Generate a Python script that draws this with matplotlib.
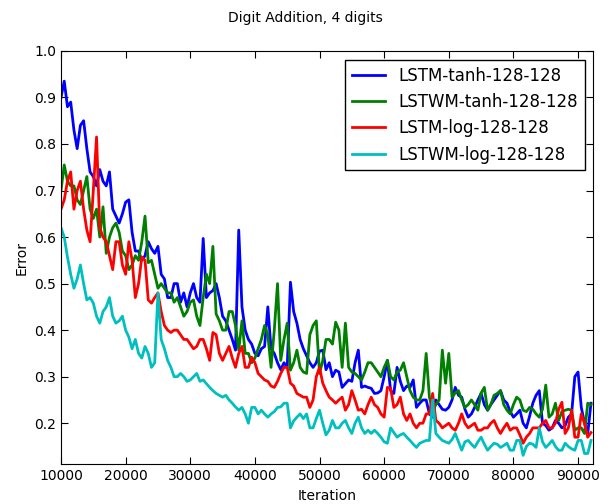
import numpy as np
import matplotlib
matplotlib.use("Agg")
import matplotlib.pyplot as plt

iterations = np.arange(10000, 92001, 500)

lstm_tanh = [
    0.90, 0.935, 0.88, 0.89, 0.83, 0.79, 0.84, 0.85, 0.79, 0.74,
    0.73, 0.71, 0.745, 0.72, 0.71, 0.74, 0.66, 0.645, 0.63, 0.65,
    0.675, 0.68, 0.61, 0.57, 0.57, 0.55, 0.56, 0.59, 0.575, 0.565,
    0.58, 0.52, 0.51, 0.47, 0.47, 0.50, 0.50, 0.46, 0.48, 0.45,
    0.48, 0.50, 0.47, 0.46, 0.597, 0.47, 0.48, 0.485, 0.50, 0.47,
    0.43, 0.42, 0.40, 0.38, 0.357, 0.615, 0.45, 0.40, 0.38, 0.37,
    0.35, 0.345, 0.36, 0.365, 0.45, 0.36, 0.35, 0.33, 0.315, 0.33,
    0.32, 0.503, 0.44, 0.415, 0.38, 0.36, 0.345, 0.33, 0.32, 0.33,
    0.355, 0.357, 0.315, 0.33, 0.30, 0.314, 0.31, 0.277, 0.285, 0.293,
    0.29, 0.33, 0.357, 0.277, 0.28, 0.277, 0.275, 0.264, 0.265, 0.27,
    0.30, 0.335, 0.27, 0.264, 0.32, 0.29, 0.27, 0.28, 0.277, 0.293,
    0.234, 0.243, 0.25, 0.25, 0.22, 0.213, 0.25, 0.24, 0.23, 0.228,
    0.234, 0.25, 0.277, 0.26, 0.256, 0.23, 0.213, 0.22, 0.234, 0.25,
    0.264, 0.24, 0.228, 0.24, 0.25, 0.26, 0.27, 0.25, 0.243, 0.225,
    0.213, 0.22, 0.228, 0.20, 0.19, 0.215, 0.243, 0.26, 0.27, 0.20,
    0.195, 0.185, 0.19, 0.206, 0.20, 0.19, 0.195, 0.213, 0.22, 0.30,
    0.31, 0.234, 0.20, 0.178, 0.243,
]

lstwm_tanh = [
    0.70, 0.755, 0.72, 0.71, 0.71, 0.68, 0.67, 0.70, 0.73, 0.66,
    0.64, 0.66, 0.60, 0.665, 0.565, 0.60, 0.62, 0.63, 0.61, 0.57,
    0.56, 0.53, 0.54, 0.56, 0.55, 0.59, 0.645, 0.545, 0.55, 0.52,
    0.49, 0.50, 0.49, 0.48, 0.48, 0.46, 0.47, 0.45, 0.43, 0.44,
    0.46, 0.465, 0.43, 0.41, 0.47, 0.52, 0.50, 0.58, 0.435, 0.42,
    0.40, 0.40, 0.44, 0.44, 0.41, 0.357, 0.42, 0.35, 0.35, 0.33,
    0.34, 0.36, 0.38, 0.41, 0.39, 0.32, 0.40, 0.50, 0.335, 0.38,
    0.415, 0.314, 0.33, 0.357, 0.32, 0.31, 0.307, 0.39, 0.41, 0.42,
    0.307, 0.335, 0.38, 0.38, 0.37, 0.417, 0.40, 0.32, 0.415, 0.32,
    0.31, 0.307, 0.30, 0.293, 0.31, 0.33, 0.33, 0.32, 0.31, 0.30,
    0.32, 0.335, 0.30, 0.293, 0.31, 0.314, 0.33, 0.30, 0.27, 0.256,
    0.25, 0.25, 0.27, 0.35, 0.256, 0.228, 0.24, 0.25, 0.357, 0.286,
    0.35, 0.256, 0.265, 0.27, 0.25, 0.234, 0.24, 0.25, 0.24, 0.228,
    0.265, 0.277, 0.228, 0.24, 0.26, 0.264, 0.27, 0.24, 0.228, 0.22,
    0.24, 0.256, 0.25, 0.228, 0.225, 0.234, 0.23, 0.22, 0.213, 0.23,
    0.282, 0.213, 0.22, 0.243, 0.206, 0.225, 0.228, 0.23, 0.228, 0.185,
    0.19, 0.19, 0.178, 0.243, 0.24,
]

lstm_log = [
    0.66, 0.68, 0.72, 0.74, 0.66, 0.70, 0.72, 0.66, 0.615, 0.59,
    0.70, 0.815, 0.62, 0.60, 0.59, 0.56, 0.53, 0.59, 0.59, 0.54,
    0.52, 0.59, 0.55, 0.47, 0.50, 0.557, 0.55, 0.465, 0.458, 0.47,
    0.48, 0.44, 0.41, 0.40, 0.395, 0.40, 0.40, 0.39, 0.38, 0.38,
    0.37, 0.36, 0.365, 0.38, 0.38, 0.36, 0.335, 0.395, 0.39, 0.35,
    0.335, 0.35, 0.365, 0.34, 0.32, 0.35, 0.365, 0.32, 0.32, 0.342,
    0.33, 0.307, 0.30, 0.293, 0.29, 0.28, 0.277, 0.29, 0.307, 0.32,
    0.32, 0.286, 0.28, 0.264, 0.26, 0.256, 0.256, 0.234, 0.25, 0.30,
    0.32, 0.286, 0.27, 0.256, 0.25, 0.243, 0.25, 0.256, 0.228, 0.24,
    0.27, 0.25, 0.228, 0.23, 0.22, 0.24, 0.256, 0.24, 0.234, 0.22,
    0.213, 0.277, 0.275, 0.234, 0.24, 0.256, 0.22, 0.206, 0.22, 0.20,
    0.19, 0.20, 0.20, 0.22, 0.22, 0.264, 0.206, 0.20, 0.19, 0.195,
    0.20, 0.19, 0.185, 0.20, 0.22, 0.20, 0.19, 0.195, 0.20, 0.185,
    0.185, 0.19, 0.19, 0.20, 0.206, 0.19, 0.178, 0.19, 0.20, 0.185,
    0.19, 0.19, 0.175, 0.157, 0.17, 0.178, 0.19, 0.19, 0.19, 0.20,
    0.206, 0.19, 0.19, 0.20, 0.23, 0.245, 0.178, 0.19, 0.228, 0.17,
    0.17, 0.22, 0.20, 0.17, 0.18,
]

lstwm_log = [
    0.62, 0.60, 0.557, 0.52, 0.49, 0.51, 0.54, 0.50, 0.465, 0.47,
    0.458, 0.43, 0.415, 0.44, 0.45, 0.47, 0.43, 0.415, 0.42, 0.43,
    0.40, 0.385, 0.36, 0.38, 0.35, 0.34, 0.365, 0.35, 0.32, 0.33,
    0.48, 0.38, 0.36, 0.335, 0.32, 0.30, 0.30, 0.307, 0.30, 0.29,
    0.293, 0.30, 0.307, 0.29, 0.293, 0.285, 0.277, 0.27, 0.264, 0.26,
    0.256, 0.26, 0.25, 0.243, 0.235, 0.228, 0.234, 0.22, 0.20, 0.234,
    0.234, 0.22, 0.228, 0.22, 0.213, 0.22, 0.225, 0.234, 0.235, 0.243,
    0.243, 0.19, 0.205, 0.213, 0.22, 0.21, 0.22, 0.19, 0.19, 0.21,
    0.228, 0.20, 0.175, 0.185, 0.206, 0.19, 0.19, 0.20, 0.206, 0.19,
    0.178, 0.20, 0.213, 0.19, 0.178, 0.185, 0.178, 0.185, 0.178, 0.17,
    0.16, 0.157, 0.19, 0.18, 0.17, 0.175, 0.178, 0.17, 0.163, 0.155,
    0.148, 0.157, 0.16, 0.163, 0.163, 0.25, 0.178, 0.17, 0.163, 0.16,
    0.157, 0.165, 0.178, 0.16, 0.142, 0.16, 0.163, 0.155, 0.148, 0.16,
    0.17, 0.155, 0.142, 0.15, 0.157, 0.155, 0.148, 0.152, 0.157, 0.142,
    0.142, 0.163, 0.163, 0.131, 0.15, 0.157, 0.155, 0.148, 0.19, 0.16,
    0.148, 0.155, 0.163, 0.15, 0.142, 0.142, 0.157, 0.15, 0.145, 0.142,
    0.163, 0.163, 0.135, 0.135, 0.163,
]

labels = [
    "LSTM-tanh-128-128",
    "LSTWM-tanh-128-128",
    "LSTM-log-128-128",
    "LSTWM-log-128-128",
]
colors = ["b", "g", "r", "c"]

fig = plt.figure(figsize=(6.1, 5.04), dpi=100, facecolor="white")
ax = fig.add_axes([0.1, 0.079, 0.872, 0.82])

for series, label, color in zip(
    [lstm_tanh, lstwm_tanh, lstm_log, lstwm_log], labels, colors
):
    ax.plot(iterations, series, color=color, linewidth=2, label=label)

ax.set_xlim(10000, 92300)
ax.set_ylim(0.112, 1.0)
ax.set_xticks(np.arange(10000, 90001, 10000))
ax.set_yticks(np.arange(0.2, 1.01, 0.1))
ax.yaxis.set_major_formatter(matplotlib.ticker.FormatStrFormatter("%.1f"))
ax.tick_params(direction="in", top=True, right=True, labelsize=10, length=5)

ax.set_xlabel("Iteration", fontsize=10)
ax.set_ylabel("Error", fontsize=10)
fig.suptitle("Digit Addition, 4 digits", y=0.964, va="center", fontsize=10)

leg = ax.legend(
    loc="upper right",
    bbox_to_anchor=(0.985, 0.978),
    borderaxespad=0,
    fontsize=12,
    fancybox=False,
    framealpha=1,
    handlelength=2,
)
leg.get_frame().set_edgecolor("black")

fig.savefig("out.png", dpi=100, facecolor="white")
